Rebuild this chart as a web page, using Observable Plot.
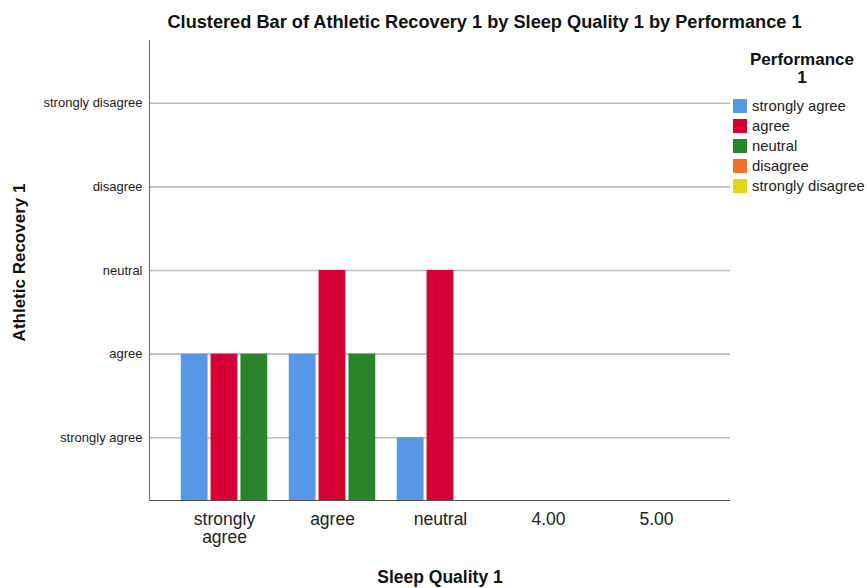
<!DOCTYPE html>
<html><head><meta charset="utf-8">
<script src="https://cdn.jsdelivr.net/npm/d3@7"></script>
<script src="https://cdn.jsdelivr.net/npm/@observablehq/plot@0.6"></script>
<style>
body{margin:0;background:#fff;font-family:"Liberation Sans",Arial,sans-serif;}
#wrap{position:relative;width:867px;height:588px;}
#legend{position:absolute;left:733px;top:51px;width:134px;color:#222;}
#legend .lt{font-weight:bold;font-size:17px;text-align:center;line-height:18px;width:138px;margin-left:0px;color:#111;}
#legend .it{display:flex;align-items:center;height:20px;font-size:14.8px;white-space:nowrap;}
#legend .sw{width:14px;height:14px;margin-right:5px;flex:none;}
#legend .items{margin-top:9px;}
</style></head><body><div id="wrap"><div id="chart"></div><div id="legend"></div></div>
<script>
const chartTitle = "Clustered Bar of Athletic Recovery 1 by Sleep Quality 1 by Performance 1";
const xTitle = "Sleep Quality 1";
const yTitle = "Athletic Recovery 1";
const legendTitle = ["Performance", "1"];
const sleepQuality = ["strongly agree","agree","neutral","4.00","5.00"];
const performance = ["strongly agree","agree","neutral","disagree","strongly disagree"];
const recoveryTicks = [1,2,3,4,5];
const recoveryLabels = ["strongly agree","agree","neutral","disagree","strongly disagree"];
const colors = ["#5897e5","#d60034","#2a852a","#f36c29","#e0d816"];
// values per Performance series, aligned with sleepQuality (null = no bar)
const perfStronglyAgree = [2,2,1,null,null];
const perfAgree = [2,3,3,null,null];
const perfNeutral = [2,2,null,null,null];
const perfDisagree = [null,null,null,null,null];
const perfStronglyDisagree = [null,null,null,null,null];

const series = [perfStronglyAgree, perfAgree, perfNeutral, perfDisagree, perfStronglyDisagree];
const data = [];
series.forEach((vals, k) => vals.forEach((v, j) => {
  if (v != null) data.push({sq: sleepQuality[j], perf: performance[k], value: v});
}));

const W = 867, H = 588, ML = 149, MR = 137, MT = 40, MB = 88;
const xOpts = {type: "band", domain: sleepQuality, paddingInner: 0, paddingOuter: 0.177};
const xs = Plot.scale({x: {...xOpts, range: [ML, W - MR]}});
const bw = xs.bandwidth;
const clusterDomain = performance.slice(0, 3);
const inner = d3.scaleBand().domain(clusterDomain).range([0, bw]).paddingInner(0.084).paddingOuter(0.36);

const barMarks = clusterDomain.map(p => Plot.barY(data.filter(d => d.perf === p), {
  x: "sq", y1: 0.25, y2: "value", fill: "perf",
  insetLeft: inner(p), insetRight: bw - inner(p) - inner.bandwidth()
}));

const plot = Plot.plot({
  width: W, height: H,
  marginLeft: ML, marginRight: MR, marginTop: MT, marginBottom: MB,
  style: {fontFamily: "'Liberation Sans', Arial, sans-serif", color: "#222", background: "#fff"},
  x: xOpts,
  y: {domain: [0.25, 5.75]},
  color: {type: "ordinal", domain: performance, range: colors},
  marks: [
    Plot.ruleY(recoveryTicks, {stroke: "#bbbbbb", strokeWidth: 1.6}),
    ...barMarks,
    Plot.ruleY([0.25], {stroke: "#555", strokeWidth: 1.2}),
    Plot.frame({anchor: "left", stroke: "#777", strokeWidth: 1.2}),
    Plot.axisY(recoveryTicks, {tickSize: 0, tickPadding: 7, fontSize: 13, label: null,
      tickFormat: d => recoveryLabels[d - 1]}),
    Plot.axisX({tickSize: 0, tickPadding: 11, fontSize: 17.5, label: null, lineHeight: 1.05,
      tickFormat: d => d === "strongly agree" ? "strongly\nagree" : d}),
    Plot.text([yTitle], {frameAnchor: "left", textAnchor: "middle", lineAnchor: "middle", rotate: -90, dx: -130, dy: -8, fontSize: 17, fontWeight: "bold", fill: "#111"}),
    Plot.text([xTitle], {frameAnchor: "bottom", lineAnchor: "middle", dy: 77, fontSize: 17.5, fontWeight: "bold", fill: "#111"}),
    Plot.text([chartTitle], {frameAnchor: "top", lineAnchor: "middle", dx: 44.5, dy: -18, fontSize: 18.2, fontWeight: "bold", fill: "#111"})
  ]
});
document.getElementById("chart").appendChild(plot);

const lg = document.getElementById("legend");
lg.innerHTML = `<div class="lt">${legendTitle.join("<br>")}</div><div class="items">` +
  performance.map((p, i) => `<div class="it"><span class="sw" style="background:${colors[i]}"></span>${p}</div>`).join("") + `</div>`;
</script>
</body></html>
